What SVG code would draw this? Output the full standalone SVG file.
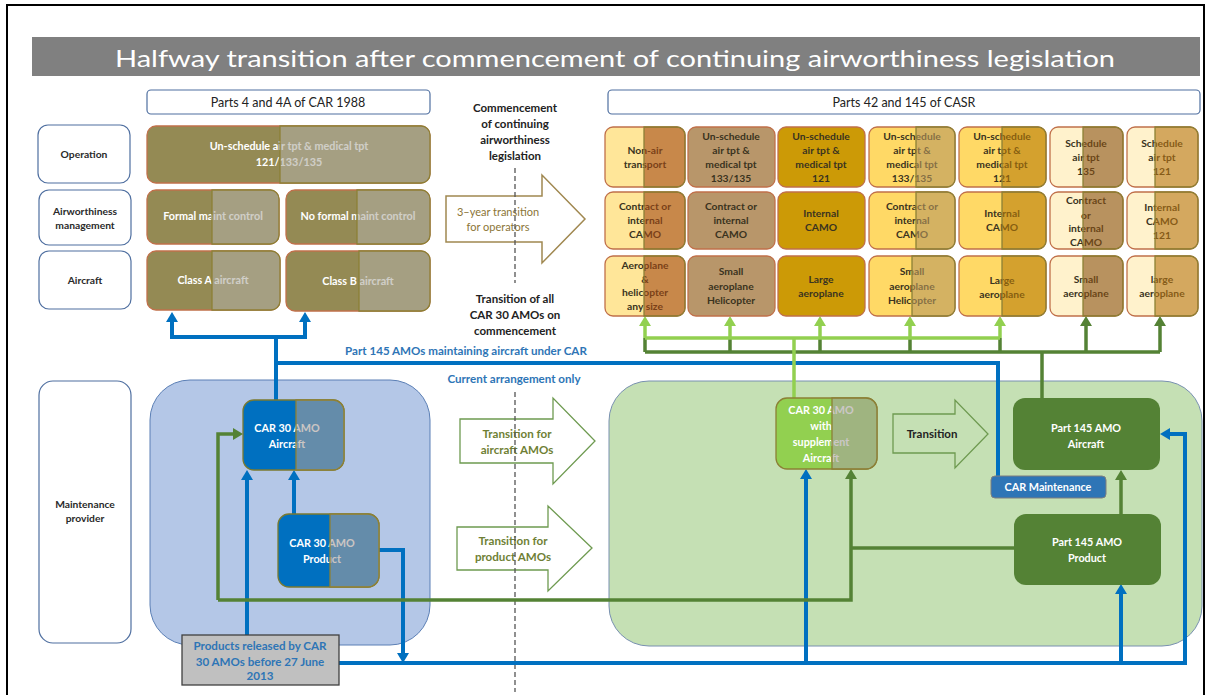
<svg xmlns="http://www.w3.org/2000/svg" width="1210" height="695" viewBox="0 0 1210 695">
<style>
text{font-family:Lato,"Liberation Sans",sans-serif;text-anchor:middle}
.ttl{font-size:23px;fill:#fff}
.hdr{font-size:12.5px;fill:#222}
.lbl{font-size:10.3px;font-weight:bold;fill:#2a2a2a}
.ol{stroke:#C0704A;stroke-width:1.3}
.ov{stroke:#8C8035;stroke-width:1.3}
.wt{font-size:10.8px;font-weight:bold;fill:#fff}
.dk{font-size:10.3px;font-weight:bold;fill:#3a3320}
.mid{font-size:11.5px;font-weight:bold;fill:#222}
.hb{fill:#fff;stroke:#4F6FA0;stroke-width:1.2}
.bl{fill:none;stroke:#0070C0;stroke-width:4}
.dg{fill:none;stroke:#548235;stroke-width:3.5}
.lg{fill:none;stroke:#92D050;stroke-width:3.5}
.bt{font-size:11.6px;font-weight:bold;fill:#2E75B6}
.gt{font-size:11.6px;font-weight:bold;fill:#6F7F35}
</style>
<defs>
<marker id="mb" viewBox="0 0 10 12" refX="0" refY="6" markerWidth="10" markerHeight="12" markerUnits="userSpaceOnUse" orient="auto-start-reverse"><path d="M0,0 L10,6 L0,12 z" fill="#0070C0"/></marker>
<marker id="mdg" viewBox="0 0 10 12" refX="0" refY="6" markerWidth="10" markerHeight="12" markerUnits="userSpaceOnUse" orient="auto-start-reverse"><path d="M0,0 L10,6 L0,12 z" fill="#548235"/></marker>
<marker id="mlg" viewBox="0 0 10 12" refX="0" refY="6" markerWidth="10" markerHeight="12" markerUnits="userSpaceOnUse" orient="auto-start-reverse"><path d="M0,0 L10,6 L0,12 z" fill="#92D050"/></marker>
</defs>
<rect width="1210" height="695" fill="#fff"/>
<rect x="7" y="5" width="1197" height="700" fill="none" stroke="#000" stroke-width="2"/>

<g id="title">
<rect x="32" y="37" width="1168" height="39" fill="#808080"/>
<text class="ttl" x="615" y="67" textLength="1000" lengthAdjust="spacingAndGlyphs">Halfway transition after commencement of continuing airworthiness legislation</text>
</g>

<g id="hdr-car"><rect x="147" y="90" width="283" height="24" rx="4" class="hb"/><text class="hdr" x="288" y="107">Parts 4 and 4A of CAR 1988</text></g>
<g id="hdr-casr"><rect x="608" y="90" width="592" height="24" rx="4" class="hb"/><text class="hdr" x="904" y="107">Parts 42 and 145 of CASR</text></g>

<g id="lab-operation"><rect x="38" y="125" width="92" height="58" rx="10" class="hb"/><text class="lbl" x="84" y="158">Operation</text></g>
<g id="lab-airworthiness"><rect x="39" y="190" width="92" height="55" rx="10" class="hb"/><text class="lbl" x="85" y="215">Airworthiness</text><text class="lbl" x="85" y="229">management</text></g>
<g id="lab-aircraft"><rect x="39" y="251" width="92" height="58" rx="10" class="hb"/><text class="lbl" x="85" y="284">Aircraft</text></g>
<g id="lab-maint"><rect x="39" y="381" width="92" height="262" rx="14" class="hb"/><text class="lbl" x="85" y="508">Maintenance</text><text class="lbl" x="85" y="522">provider</text></g>

<g id="panels">
<rect x="150" y="380" width="280" height="265" rx="40" fill="#B4C7E7" stroke="#5B7FB5" stroke-width="1"/>
<rect x="609" y="381" width="593" height="265" rx="40" fill="#C5E0B4" stroke="#7890B0" stroke-width="1"/>
</g>

<g id="big-arrows">
<g id="arr-operators"><polygon points="446,196 542,196 542,175 585,219 542,263 542,242 446,242" fill="#fff" stroke="#A08850" stroke-width="1.5"/><text x="498" y="216" style="font-size:11px;fill:#8B7536">3–year transition</text><text x="498" y="231" style="font-size:11px;fill:#8B7536">for operators</text></g>
<g id="arr-aircraft-amo"><polygon points="460,419 553,419 553,398 595,441 553,484 553,463 460,463" fill="#fff" stroke="#6E9A50" stroke-width="1.3"/><text class="gt" x="517" y="438">Transition for</text><text class="gt" x="517" y="454">aircraft AMOs</text></g>
<g id="arr-product-amo"><polygon points="457,527 548,527 548,506 592,548 548,591 548,570 457,570" fill="#fff" stroke="#6E9A50" stroke-width="1.3"/><text class="gt" x="513" y="545">Transition for</text><text class="gt" x="513" y="561">product AMOs</text></g>
<g id="arr-transition"><polygon points="893,414 955,414 955,400 988,434 955,468 955,453 893,453" fill="#C5E0B4" stroke="#6E9A50" stroke-width="1.3"/><text x="932" y="438" style="font-size:11.5px;font-weight:bold;fill:#222">Transition</text></g>
</g>

<g id="middle-text">
<text class="mid" x="515" y="112">Commencement</text>
<text class="mid" x="515" y="128">of continuing</text>
<text class="mid" x="515" y="144">airworthiness</text>
<text class="mid" x="515" y="160">legislation</text>
<text class="mid" x="515" y="303">Transition of all</text>
<text class="mid" x="515" y="319">CAR 30 AMOs on</text>
<text class="mid" x="515" y="335">commencement</text>
<path d="M515,168 V283 M515,392 V692" stroke="#555" stroke-width="1.3" stroke-dasharray="5,3" fill="none"/>
</g>

<g id="connectors">
<path class="bl" d="M172,322 V337 H305 V322" marker-start="url(#mb)" marker-end="url(#mb)"/>
<path class="bl" d="M276,400 V337"/>
<path class="bl" d="M276,363 H998 V476"/>
<path class="bl" d="M247,635 V480" marker-end="url(#mb)"/>
<path class="bl" d="M294,514 V480" marker-end="url(#mb)"/>
<path class="bl" d="M379,550 H403 V653" marker-end="url(#mb)"/>
<path class="bl" d="M339,663 H1185 V434 H1170" marker-end="url(#mb)"/>
<path class="bl" d="M806,663 V479" marker-end="url(#mb)"/>
<path class="bl" d="M1121,663 V594" marker-end="url(#mb)"/>
<path class="dg" d="M218,600 V434 H233" marker-end="url(#mdg)"/>
<path class="dg" d="M218,600 H851 V479" marker-end="url(#mdg)"/>
<path class="dg" d="M1014,548 H851"/>
<path class="dg" d="M1121,514 V480" marker-end="url(#mdg)"/>
<path class="dg" d="M645,352 H1160 M645,352 V338 M730,352 V338 M820,352 V338 M910,352 V338 M1000,352 V338 M1042,352 V398"/>
<path class="dg" d="M1086,352 V326" marker-end="url(#mdg)"/>
<path class="dg" d="M1160,352 V326" marker-end="url(#mdg)"/>
<path class="lg" d="M645,338 H1000 M794,338 V398"/>
<path class="lg" d="M645,338 V326" marker-end="url(#mlg)"/>
<path class="lg" d="M730,338 V326" marker-end="url(#mlg)"/>
<path class="lg" d="M820,338 V326" marker-end="url(#mlg)"/>
<path class="lg" d="M910,338 V326" marker-end="url(#mlg)"/>
<path class="lg" d="M1000,338 V326" marker-end="url(#mlg)"/>
<text class="bt" x="466" y="355">Part 145 AMOs maintaining aircraft under CAR</text>
<text class="bt" x="514" y="383">Current arrangement only</text>
</g>

<g id="car-operation">
<rect x="147" y="126" width="283" height="57" rx="9" fill="#948A54" class="ol"/>
<text class="wt" x="289" y="150">Un-schedule air tpt &amp; medical tpt</text>
<text class="wt" x="289" y="166">121/133/135</text>
<path d="M280,126 H421 A9,9 0 0 1 430,135 V174 A9,9 0 0 1 421,183 H280 Z" fill="#B0ADA1" fill-opacity="0.6" class="ov"/>
</g>
<g id="car-formal">
<rect x="147" y="190" width="132" height="54" rx="9" fill="#948A54" class="ol"/>
<text class="wt" x="213" y="220">Formal maint control</text>
<path d="M212,190 H270 A9,9 0 0 1 279,199 V235 A9,9 0 0 1 270,244 H212 Z" fill="#B0ADA1" fill-opacity="0.6" class="ov"/>
</g>
<g id="car-noformal">
<rect x="286" y="190" width="144" height="54" rx="9" fill="#948A54" class="ol"/>
<text class="wt" x="358" y="220">No formal maint control</text>
<path d="M357,190 H421 A9,9 0 0 1 430,199 V235 A9,9 0 0 1 421,244 H357 Z" fill="#B0ADA1" fill-opacity="0.6" class="ov"/>
</g>
<g id="car-classA">
<rect x="147" y="251" width="133" height="59" rx="9" fill="#948A54" class="ol"/>
<text class="wt" x="213" y="284">Class A aircraft</text>
<path d="M212,251 H271 A9,9 0 0 1 280,260 V301 A9,9 0 0 1 271,310 H212 Z" fill="#B0ADA1" fill-opacity="0.6" class="ov"/>
</g>
<g id="car-classB">
<rect x="286" y="251" width="144" height="60" rx="9" fill="#948A54" class="ol"/>
<text class="wt" x="358" y="285">Class B aircraft</text>
<path d="M359,251 H421 A9,9 0 0 1 430,260 V302 A9,9 0 0 1 421,311 H359 Z" fill="#B0ADA1" fill-opacity="0.6" class="ov"/>
</g>

<g id="c1-op"><rect x="605" y="127" width="80" height="60" rx="8" fill="#FFE699" class="ol"/><text class="dk" x="645" y="154">Non-air</text><text class="dk" x="645" y="168">transport</text><path d="M644,127 H677 A8,8 0 0 1 685,135 V179 A8,8 0 0 1 677,187 H644 Z" fill="#A34915" fill-opacity="0.6" class="ov"/></g>
<g id="c1-cam"><rect x="605" y="192" width="80" height="57" rx="8" fill="#FFE699" class="ol"/><text class="dk" x="645" y="210">Contract or</text><text class="dk" x="645" y="224">internal</text><text class="dk" x="645" y="238">CAMO</text><path d="M644,192 H677 A8,8 0 0 1 685,200 V241 A8,8 0 0 1 677,249 H644 Z" fill="#A34915" fill-opacity="0.6" class="ov"/></g>
<g id="c1-ac"><rect x="605" y="256" width="80" height="60" rx="8" fill="#FFE699" class="ol"/><text class="dk" x="645" y="269">Aeroplane</text><text class="dk" x="645" y="283">&amp;</text><text class="dk" x="645" y="296">helicopter</text><text class="dk" x="645" y="310">any size</text><path d="M644,256 H677 A8,8 0 0 1 685,264 V308 A8,8 0 0 1 677,316 H644 Z" fill="#A34915" fill-opacity="0.6" class="ov"/></g>

<g id="c2-op"><rect x="688" y="127" width="87" height="60" rx="8" fill="#B8966A" class="ol"/><text class="dk" x="731" y="140">Un-schedule</text><text class="dk" x="731" y="154">air tpt  &amp;</text><text class="dk" x="731" y="168">medical tpt</text><text class="dk" x="731" y="182">133/135</text></g>
<g id="c2-cam"><rect x="688" y="192" width="87" height="57" rx="8" fill="#B8966A" class="ol"/><text class="dk" x="731" y="210">Contract or</text><text class="dk" x="731" y="224">internal</text><text class="dk" x="731" y="238">CAMO</text></g>
<g id="c2-ac"><rect x="688" y="256" width="87" height="60" rx="8" fill="#B8966A" class="ol"/><text class="dk" x="731" y="275">Small</text><text class="dk" x="731" y="290">aeroplane</text><text class="dk" x="731" y="304">Helicopter</text></g>

<g id="c3-op"><rect x="778" y="127" width="87" height="60" rx="8" fill="#CC9A06" class="ol"/><text class="dk" x="821" y="140">Un-schedule</text><text class="dk" x="821" y="154">air tpt &amp;</text><text class="dk" x="821" y="168">medical tpt</text><text class="dk" x="821" y="182">121</text></g>
<g id="c3-cam"><rect x="778" y="192" width="87" height="57" rx="8" fill="#CC9A06" class="ol"/><text class="dk" x="821" y="217">Internal</text><text class="dk" x="821" y="231">CAMO</text></g>
<g id="c3-ac"><rect x="778" y="256" width="87" height="60" rx="8" fill="#CC9A06" class="ol"/><text class="dk" x="821" y="283">Large</text><text class="dk" x="821" y="297">aeroplane</text></g>

<g id="c4-op"><rect x="869" y="127" width="86" height="60" rx="8" fill="#FFD966" class="ol"/><text class="dk" x="912" y="140">Un-schedule</text><text class="dk" x="912" y="154">air tpt  &amp;</text><text class="dk" x="912" y="168">medical tpt</text><text class="dk" x="912" y="182">133/135</text><path d="M916,127 H947 A8,8 0 0 1 955,135 V179 A8,8 0 0 1 947,187 H916 Z" fill="#B7985F" fill-opacity="0.6" class="ov"/></g>
<g id="c4-cam"><rect x="869" y="192" width="86" height="57" rx="8" fill="#FFD966" class="ol"/><text class="dk" x="912" y="210">Contract or</text><text class="dk" x="912" y="224">internal</text><text class="dk" x="912" y="238">CAMO</text><path d="M916,192 H947 A8,8 0 0 1 955,200 V241 A8,8 0 0 1 947,249 H916 Z" fill="#B7985F" fill-opacity="0.6" class="ov"/></g>
<g id="c4-ac"><rect x="869" y="256" width="86" height="60" rx="8" fill="#FFD966" class="ol"/><text class="dk" x="912" y="275">Small</text><text class="dk" x="912" y="290">aeroplane</text><text class="dk" x="912" y="304">Helicopter</text><path d="M912,256 H947 A8,8 0 0 1 955,264 V308 A8,8 0 0 1 947,316 H912 Z" fill="#B7985F" fill-opacity="0.6" class="ov"/></g>

<g id="c5-op"><rect x="959" y="127" width="87" height="60" rx="8" fill="#FFD966" class="ol"/><text class="dk" x="1002" y="140">Un-schedule</text><text class="dk" x="1002" y="154">air tpt &amp;</text><text class="dk" x="1002" y="168">medical tpt</text><text class="dk" x="1002" y="182">121</text><path d="M1002,127 H1038 A8,8 0 0 1 1046,135 V179 A8,8 0 0 1 1038,187 H1002 Z" fill="#B77C09" fill-opacity="0.6" class="ov"/></g>
<g id="c5-cam"><rect x="959" y="192" width="87" height="57" rx="8" fill="#FFD966" class="ol"/><text class="dk" x="1002" y="217">Internal</text><text class="dk" x="1002" y="231">CAMO</text><path d="M1002,192 H1038 A8,8 0 0 1 1046,200 V241 A8,8 0 0 1 1038,249 H1002 Z" fill="#B77C09" fill-opacity="0.6" class="ov"/></g>
<g id="c5-ac"><rect x="959" y="256" width="87" height="60" rx="8" fill="#FFD966" class="ol"/><text class="dk" x="1002" y="284">Large</text><text class="dk" x="1002" y="298">aeroplane</text><path d="M1002,256 H1038 A8,8 0 0 1 1046,264 V308 A8,8 0 0 1 1038,316 H1002 Z" fill="#B77C09" fill-opacity="0.6" class="ov"/></g>

<g id="c6-op"><rect x="1050" y="127" width="73" height="60" rx="8" fill="#FFF2CC" class="ol"/><text class="dk" x="1086" y="147">Schedule</text><text class="dk" x="1086" y="161">air tpt</text><text class="dk" x="1086" y="175">135</text><path d="M1083,127 H1115 A8,8 0 0 1 1123,135 V179 A8,8 0 0 1 1115,187 H1083 Z" fill="#895215" fill-opacity="0.6" class="ov"/></g>
<g id="c6-cam"><rect x="1050" y="192" width="73" height="57" rx="8" fill="#FFF2CC" class="ol"/><text class="dk" x="1086" y="204">Contract</text><text class="dk" x="1086" y="219">or</text><text class="dk" x="1086" y="232">internal</text><text class="dk" x="1086" y="246">CAMO</text><path d="M1083,192 H1115 A8,8 0 0 1 1123,200 V241 A8,8 0 0 1 1115,249 H1083 Z" fill="#895215" fill-opacity="0.6" class="ov"/></g>
<g id="c6-ac"><rect x="1050" y="256" width="73" height="60" rx="8" fill="#FFF2CC" class="ol"/><text class="dk" x="1086" y="283">Small</text><text class="dk" x="1086" y="297">aeroplane</text><path d="M1083,256 H1115 A8,8 0 0 1 1123,264 V308 A8,8 0 0 1 1115,316 H1083 Z" fill="#895215" fill-opacity="0.6" class="ov"/></g>

<g id="c7-op"><rect x="1127" y="127" width="71" height="60" rx="8" fill="#FFF2CC" class="ol"/><text class="dk" x="1162" y="147">Schedule</text><text class="dk" x="1162" y="161">air tpt</text><text class="dk" x="1162" y="175">121</text><path d="M1155,127 H1190 A8,8 0 0 1 1198,135 V179 A8,8 0 0 1 1190,187 H1155 Z" fill="#B77715" fill-opacity="0.6" class="ov"/></g>
<g id="c7-cam"><rect x="1127" y="192" width="71" height="57" rx="8" fill="#FFF2CC" class="ol"/><text class="dk" x="1162" y="211">Internal</text><text class="dk" x="1162" y="225">CAMO</text><text class="dk" x="1162" y="239">121</text><path d="M1155,192 H1190 A8,8 0 0 1 1198,200 V241 A8,8 0 0 1 1190,249 H1155 Z" fill="#B77715" fill-opacity="0.6" class="ov"/></g>
<g id="c7-ac"><rect x="1127" y="256" width="71" height="60" rx="8" fill="#FFF2CC" class="ol"/><text class="dk" x="1162" y="283">large</text><text class="dk" x="1162" y="297">aeroplane</text><path d="M1155,256 H1190 A8,8 0 0 1 1198,264 V308 A8,8 0 0 1 1190,316 H1155 Z" fill="#B77715" fill-opacity="0.6" class="ov"/></g>

<g id="car30-aircraft"><rect x="243" y="400" width="101" height="70" rx="11" fill="#0070C0" stroke="#7A7A30" stroke-width="1.3"/><text class="wt" x="287" y="432">CAR 30 AMO</text><text class="wt" x="287" y="448">Aircraft</text><path d="M296,400 H333 A11,11 0 0 1 344,411 V459 A11,11 0 0 1 333,470 H296 Z" fill="#A79F9B" fill-opacity="0.6" class="ov"/></g>
<g id="car30-product"><rect x="278" y="514" width="101" height="73" rx="11" fill="#0070C0" stroke="#7A7A30" stroke-width="1.3"/><text class="wt" x="322" y="547">CAR 30 AMO</text><text class="wt" x="322" y="563">Product</text><path d="M330,514 H368 A11,11 0 0 1 379,525 V576 A11,11 0 0 1 368,587 H330 Z" fill="#A79F9B" fill-opacity="0.6" class="ov"/></g>
<g id="products-released"><rect x="182" y="635" width="157" height="50" fill="#C0C0C0" stroke="#404040" stroke-width="1.3"/><text class="bt" x="260" y="650">Products released by CAR</text><text class="bt" x="260" y="666">30 AMOs before 27 June</text><text class="bt" x="260" y="680">2013</text></g>
<g id="car30-supplement"><rect x="776" y="398" width="101" height="71" rx="11" fill="#92D050" stroke="#8C8035" stroke-width="1.3"/><text class="wt" x="821" y="414">CAR 30 AMO</text><text class="wt" x="821" y="430">with</text><text class="wt" x="821" y="446">supplement</text><text class="wt" x="821" y="462">Aircraft</text><path d="M832,398 H866 A11,11 0 0 1 877,409 V458 A11,11 0 0 1 866,469 H832 Z" fill="#A9A1A0" fill-opacity="0.6" class="ov"/></g>
<g id="p145-aircraft"><rect x="1013" y="398" width="147" height="72" rx="12" fill="#548235"/><text class="wt" x="1086" y="432">Part 145 AMO</text><text class="wt" x="1086" y="448">Aircraft</text></g>
<g id="car-maintenance"><rect x="991" y="476" width="115" height="22" rx="4" fill="#2E75B6" stroke="#7F7F7F" stroke-width="1"/><text class="wt" x="1048" y="491">CAR Maintenance</text></g>
<g id="p145-product"><rect x="1014" y="514" width="147" height="71" rx="12" fill="#548235"/><text class="wt" x="1087" y="546">Part 145 AMO</text><text class="wt" x="1087" y="562">Product</text></g>
</svg>
